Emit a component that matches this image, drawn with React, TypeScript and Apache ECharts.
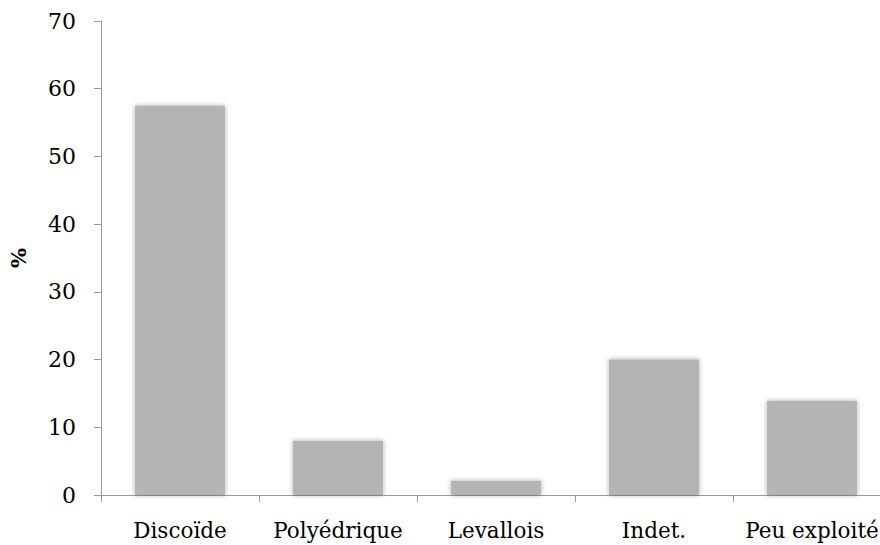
import React, { useEffect, useRef } from "react";
import * as echarts from "echarts";

const categories = ["Discoïde", "Polyédrique", "Levallois", "Indet.", "Peu exploité"];
const values = [57.5, 8, 2.1, 20, 13.9];
const yTicks = { min: 0, max: 70, interval: 10 };
const yTitle = "%";

export default function App() {
  const ref = useRef<HTMLDivElement>(null);
  useEffect(() => {
    const chart = echarts.init(ref.current!, null, { renderer: "svg" });
    const font = "DejaVu Serif";
    chart.setOption({
      animation: false,
      backgroundColor: "#ffffff",
      grid: { left: 98, top: 21, bottom: 50, right: 0, containLabel: false },
      xAxis: {
        type: "category",
        data: categories,
        axisLine: { lineStyle: { color: "#9a9a9a", width: 1 } },
        axisTick: { show: true, length: 7, lineStyle: { color: "#9a9a9a" }, alignWithLabel: false },
        axisLabel: { color: "#000", fontFamily: font, fontSize: 21.5, margin: 24, interval: 0 },
      },
      yAxis: {
        type: "value",
        min: yTicks.min,
        max: yTicks.max,
        interval: yTicks.interval,
        name: yTitle,
        nameLocation: "middle",
        nameGap: 72,
        nameRotate: 90,
        nameTextStyle: { color: "#000", fontFamily: font, fontSize: 21, fontWeight: "bold" },
        axisLine: { show: true, lineStyle: { color: "#9a9a9a", width: 1 } },
        axisTick: { show: true, length: 7, lineStyle: { color: "#9a9a9a" } },
        splitLine: { show: false },
        axisLabel: { color: "#000", fontFamily: font, fontSize: 22, margin: 25 },
      },
      series: [
        {
          type: "bar",
          data: values,
          barWidth: "57%",
          itemStyle: {
            color: "#b4b4b4",
            shadowBlur: 5,
            shadowColor: "rgba(0,0,0,0.35)",
            shadowOffsetX: 0,
            shadowOffsetY: 0,
          },
        },
      ],
    });
    return () => chart.dispose();
  }, []);
  return (
    <div style={{ position: "fixed", left: 0, top: 0, width: 880, height: 545, overflow: "hidden", background: "#fff" }}>
      <div ref={ref} style={{ width: 890.5, height: 545 }} />
    </div>
  );
}
